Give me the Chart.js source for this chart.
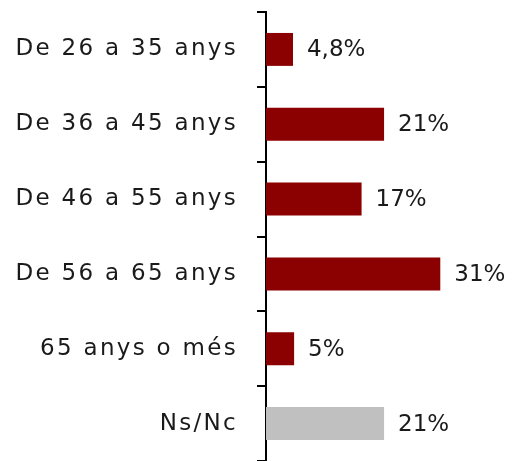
<!DOCTYPE html>
<html>
<head>
<meta charset="utf-8">
<script src="https://cdn.jsdelivr.net/npm/chart.js@4"></script>
<style>
  html, body { margin: 0; padding: 0; background: #fff; }
  #caixa { width: 519px; height: 461px; }
</style>
</head>
<body>
<div id="caixa"><canvas id="grafica-edats"></canvas></div>
<script>
// dades llegides del grafic
var categories = ['De 26 a 35 anys', 'De 36 a 45 anys', 'De 46 a 55 anys', 'De 56 a 65 anys', '65 anys o més', 'Ns/Nc'];
var valors = [4.8, 21, 17, 31, 5, 21];
var etiquetes = ['4,8%', '21%', '17%', '31%', '5%', '21%'];
var colors = ['#8B0000', '#8B0000', '#8B0000', '#8B0000', '#8B0000', '#C0C0C0'];

var font = 'DejaVu Sans';

// lletres de les categories una mica mes separades (la font original es mes ampla)
var pluginEspaiat = {
  id: 'espaiat',
  beforeDraw: function(chart){ chart.ctx.letterSpacing = '2.3px'; },
  afterDraw: function(chart){ chart.ctx.letterSpacing = '0px'; }
};

// escriu el percentatge a la dreta de cada barra
var pluginEtiquetes = {
  id: 'etiquetes',
  afterDatasetsDraw: function(chart){
    var ctx = chart.ctx;
    var meta = chart.getDatasetMeta(0);
    ctx.save();
    ctx.letterSpacing = '0px';
    ctx.font = '23px "' + font + '"';
    ctx.fillStyle = '#1a1a1a';
    ctx.textAlign = 'left';
    ctx.textBaseline = 'middle';
    meta.data.forEach(function(barra, i){
      ctx.fillText(etiquetes[i], barra.x + 14, barra.y + 1);
    });
    ctx.restore();
  }
};

var canvas = document.getElementById('grafica-edats').getContext('2d');
var chart = new Chart(canvas, {
  type: 'bar',
  data: {
    labels: categories,
    datasets: [{
      data: valors,
      backgroundColor: colors,
      borderWidth: 0,
      categoryPercentage: 1,
      barPercentage: 0.44
    }]
  },
  options: {
    indexAxis: 'y',
    responsive: true,
    maintainAspectRatio: false,
    animation: false,
    layout: { padding: { top: 12, right: 0, bottom: 0, left: 0 } },
    plugins: {
      legend: { display: false },
      tooltip: { enabled: false }
    },
    scales: {
      x: {
        display: false,
        min: 0,
        max: 45
      },
      y: {
        afterFit: function(scale){
          scale.width = 266;
          scale.paddingTop = 0;
          scale.paddingBottom = 0;
        },
        border: { display: true, color: '#000', width: 2 },
        grid: {
          drawOnChartArea: false,
          drawTicks: true,
          tickLength: 9,
          color: '#000',
          lineWidth: 2
        },
        ticks: {
          padding: 19,
          color: '#1a1a1a',
          font: { family: font, size: 23 }
        }
      }
    }
  },
  plugins: [pluginEspaiat, pluginEtiquetes]
});
</script>
</body>
</html>
